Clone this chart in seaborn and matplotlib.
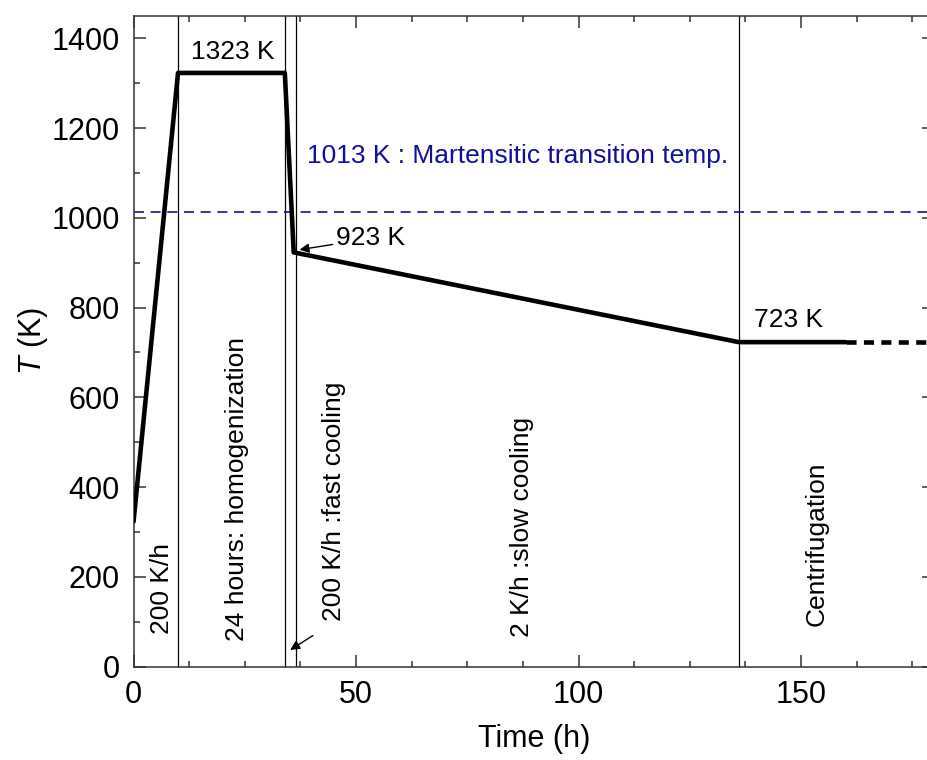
import numpy as np
import pandas as pd
import matplotlib
matplotlib.use("Agg")
import matplotlib.pyplot as plt
from matplotlib.ticker import MultipleLocator
import seaborn as sns

# heat treatment profile
time_h = [0, 10, 34, 36, 136, 160]
temp_K = [323, 1323, 1323, 923, 723, 723]
# continued hold (dashed)
hold_time = [160, 180]
hold_temp = [723, 723]
# stage boundaries
stage_bounds = [10, 34, 36.5, 136]
martensite_T = 1013

sns.set_style("ticks")
plt.rcParams['font.family'] = ['Liberation Sans', 'DejaVu Sans']
plt.rcParams['mathtext.fontset'] = 'custom'
plt.rcParams['mathtext.it'] = 'Liberation Sans:italic'
plt.rcParams['text.color'] = 'black'
plt.rcParams['axes.labelcolor'] = 'black'
plt.rcParams['xtick.labelcolor'] = 'black'
plt.rcParams['ytick.labelcolor'] = 'black'

fig = plt.figure(figsize=(9.28, 7.6), dpi=100)
ax = fig.add_axes([0.1439, 0.123, 1.007 - 0.1439, 0.979 - 0.123])

for xb in stage_bounds:
    ax.axvline(xb, color='black', linewidth=0.9, zorder=1)
ax.axhline(martensite_T, color='#1010a0', linewidth=1.2, linestyle=(0, (6, 4)), zorder=1)

prof = pd.DataFrame({'t': time_h, 'T': temp_K})
sns.lineplot(data=prof, x='t', y='T', color='black', linewidth=3.3, ax=ax, sort=False, zorder=3)
sns.lineplot(x=hold_time, y=hold_temp, color='black', linewidth=3.3, linestyle=(0, (2.2, 1.6)), ax=ax, zorder=3)

ax.set_xlim(0, 180)
ax.set_ylim(0, 1450)
ax.xaxis.set_major_locator(MultipleLocator(50))
ax.xaxis.set_minor_locator(MultipleLocator(12.5))
ax.yaxis.set_major_locator(MultipleLocator(200))
ax.yaxis.set_minor_locator(MultipleLocator(100))
ax.tick_params(which='both', direction='in', top=True, right=True, width=1.1, color='#333333', labelsize=22)
ax.tick_params(which='major', length=8.5)
ax.tick_params(which='minor', length=4.3)
ax.tick_params(axis='x', which='both', pad=10)
ax.tick_params(axis='y', which='both', pad=10)
for s in ax.spines.values():
    s.set_linewidth(1.1)
    s.set_color('#333333')

ax.set_xlabel('Time (h)', fontsize=22, labelpad=10)
ax.set_ylabel('$T$ (K)', fontsize=22, labelpad=1)

fs = 19
ax.text(22.4, 1370, '1323 K', fontsize=fs, ha='center', va='center')
ax.text(147.1, 773, '723 K', fontsize=fs, ha='center', va='center')
ax.text(39.0, 1137, '1013 K : Martensitic transition temp.', fontsize=fs, ha='left', va='center', color='#1010a0')
ax.annotate('923 K', xy=(37.3, 929), xytext=(45.5, 954), fontsize=fs, ha='left', va='center',
            arrowprops=dict(arrowstyle='-|>', color='black', lw=1.0, mutation_scale=14, shrinkA=0, shrinkB=0))
ax.annotate('', xy=(35.2, 37), xytext=(40.3, 69),
            arrowprops=dict(arrowstyle='-|>', color='black', lw=1.0, mutation_scale=14, shrinkA=0, shrinkB=0))

ax.text(6.4, 175, '200 K/h', fontsize=fs, rotation=90, ha='center', va='center')
ax.text(23.2, 395, '24 hours: homogenization', fontsize=fs, rotation=90, ha='center', va='center')
ax.text(45.0, 368, '200 K/h :fast cooling', fontsize=fs, rotation=90, ha='center', va='center')
ax.text(87.3, 310, '2 K/h :slow cooling', fontsize=fs, rotation=90, ha='center', va='center')
ax.text(153.6, 274, 'Centrifugation', fontsize=fs, rotation=90, ha='center', va='center')

fig.savefig('out.png', dpi=100)
